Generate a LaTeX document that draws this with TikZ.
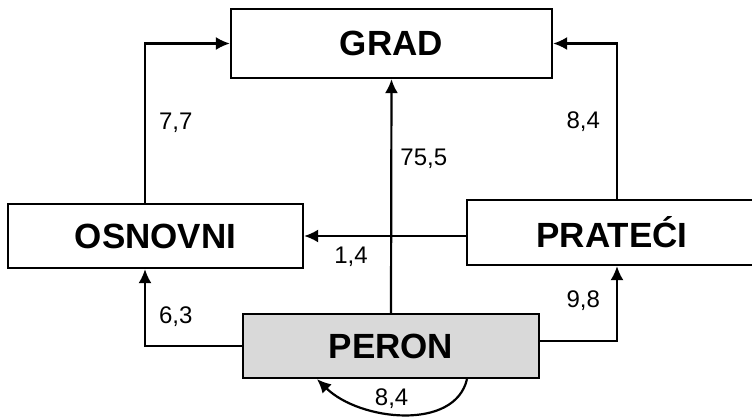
\documentclass[tikz,border=0pt]{standalone}
\usepackage{fontspec}
\setmainfont{Liberation Sans}
\usetikzlibrary{arrows.meta}
\tikzset{
  box/.style={draw, line width=1.1pt, inner sep=0pt, font=\bfseries\fontsize{17.5}{21}\selectfont},
  lbl/.style={inner sep=0pt, font=\fontsize{12}{14}\selectfont},
  arr/.style={->, line width=1.1pt}
}
\begin{document}
\begin{tikzpicture}[x=0.5pt,y=-0.5pt,>={Latex[length=7pt,width=6.5pt]}]
            \useasboundingbox (0,0) rectangle (752,418);
            \node[box, minimum width=160.5pt, minimum height=34.5pt] (GRAD) at (391.5,43.5) {GRAD};
            \node[box, minimum width=147.5pt, minimum height=32pt] (OSNOVNI) at (155.5,236) {OSNOVNI};
            \node[box, minimum width=145pt, minimum height=32.5pt] (PRATECI) at (612,232.5) {PRATEĆI};
            \node[box, fill=gray!30, minimum width=148pt, minimum height=32pt] (PERON) at (391,346) {PERON};
            \coordinate (xL) at (145,0);
            \coordinate (xR) at (617,0);

            \draw[arr] (xL |- OSNOVNI.north) |- node[lbl, pos=0.25, anchor=west, xshift=6.5pt] {7,7} (GRAD.west);
            \draw[arr] (xR |- PRATECI.north) |- node[lbl, pos=0.25, anchor=east, xshift=-8pt] {8,4} (GRAD.east);
            \draw[arr] (PERON.north) -- node[lbl, pos=0.66, anchor=west, xshift=4pt] {75,5} (GRAD.south);
            \draw[arr] (PRATECI.west |- OSNOVNI.east) -- node[lbl, pos=0.71, anchor=north, yshift=-5pt] {1,4} (OSNOVNI.east);
            \draw[arr] (PERON.west) -| node[lbl, pos=0.69, anchor=west, xshift=6.5pt] {6,3} (xL |- OSNOVNI.south);
            \draw[arr] ([yshift=2.5pt]PERON.east) -| node[lbl, pos=0.77, anchor=east, xshift=-8pt] {9,8} (xR |- PRATECI.south);
            \draw[arr] ([xshift=38pt]PERON.south) .. controls +(-12,52) and +(43,42) .. node[lbl, pos=0.5, anchor=south, xshift=-6pt, yshift=2.5pt] {8,4} ([xshift=-37pt]PERON.south);
        \end{tikzpicture}
\end{document}
